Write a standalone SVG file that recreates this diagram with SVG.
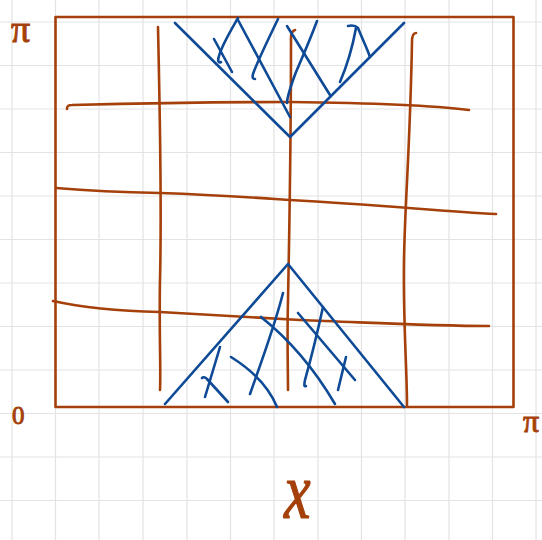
<svg xmlns="http://www.w3.org/2000/svg" width="542" height="540" viewBox="0 0 542 540">
<style>
.grid{stroke:#e3e3e3;stroke-width:1.2;fill:none}
.o{stroke:#a5400a;stroke-width:2.6;fill:none;stroke-linecap:round;stroke-linejoin:round}
.b{stroke:#0e4a96;stroke-width:2.6;fill:none;stroke-linecap:round;stroke-linejoin:round}
.lab{fill:#a5400a;stroke:#a5400a;stroke-width:0.9;font-family:"Liberation Serif",serif}
</style>
<rect width="542" height="540" fill="#ffffff"/>
<g id="grid" class="grid">
<path d="M12 0V540M55.5 0V540M99 0V540M143 0V540M187 0V540M230.5 0V540M274 0V540M318 0V540M361.5 0V540M405 0V540M449 0V540M492.5 0V540M536 0V540"/>
<path d="M0 22H542M0 65.5H542M0 109H542M0 152.5H542M0 196H542M0 239.5H542M0 283H542M0 326.5H542M0 370H542M0 413.5H542M0 457H542M0 500.5H542"/>
</g>
<g id="frame">
<rect class="o" x="55.5" y="17" width="458" height="390" stroke-linejoin="miter"/>
</g>
<g id="orange-curves" class="o">
<path d="M158 27C160 120 162 200 160 280C159 330 161 370 160 390"/>
<path d="M295 30C292 31 291 33 291 38C291 150 289 250 288 300C287 340 288 370 288 390"/>
<path d="M416 33C413 33 412 36 412 42C410 150 405 200 404 260C403 320 407 370 407 405"/>
<path d="M67 109C67 106 68 105 72 105C150 103 230 102 290 102C380 103 430 105 469 110"/>
<path d="M56 188C80 190 110 192 160 193C220 195 260 198 290 200C380 205 440 211 496 214"/>
<path d="M53 301C80 307 120 311 160 312C220 315 260 318 300 320C380 323 430 326 489 326"/>
</g>
<g id="top-wedge" class="b">
<path d="M175 23L290 137L404 23"/>
<path d="M214 39L232 72"/>
<path d="M238 18C230 32 222 45 219 56C217 62 219 63 221 62"/>
<path d="M238 20L290 117"/>
<path d="M278 19C268 40 258 60 253 74C252 78 253 79 255 79"/>
<path d="M287 26L330 95"/>
<path d="M317 21C310 40 302 58 296 72C290 88 287 98 287 103"/>
<path d="M348 26C352 25 356 26 358 28C362 38 367 48 370 57"/>
<path d="M356 28C352 50 346 68 340 82"/>
</g>
<g id="bottom-wedge" class="b">
<path d="M165 404L288 264L404 407"/>
<path d="M220 347L205 397"/>
<path d="M202 378C203 377 205 377 207 379L228 402"/>
<path d="M231 357C255 372 270 390 277 407"/>
<path d="M283 293C275 325 262 360 250 394"/>
<path d="M261 317C290 340 315 370 335 404"/>
<path d="M298 313L355 380"/>
<path d="M323 307C318 330 312 355 305 380C304 385 304 387 306 386"/>
<path d="M346 357L338 390"/>
</g>
<g id="labels">
<text class="lab" x="11" y="42" font-size="38">π</text>
<text class="lab" x="12" y="424" font-size="25">0</text>
<text class="lab" x="523" y="432" font-size="32">π</text>
<text class="lab" transform="translate(284,518) scale(1,1.35)" x="0" y="0" font-size="60" font-style="italic">x</text>
</g>
</svg>
